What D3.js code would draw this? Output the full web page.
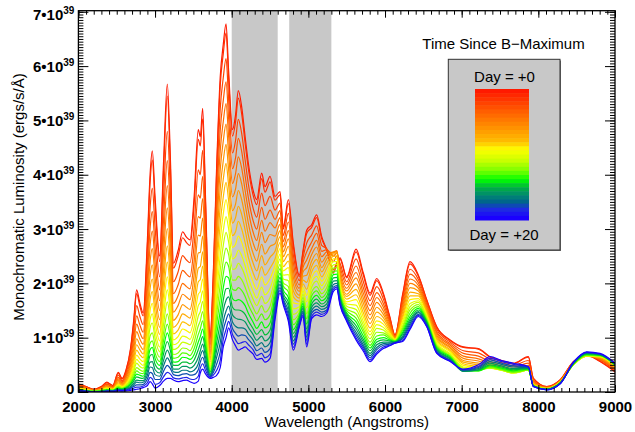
<!DOCTYPE html>
<html><head><meta charset="utf-8">
<script src="https://cdn.jsdelivr.net/npm/d3@7/dist/d3.min.js"></script>
<style>body{margin:0;background:#fff}svg{display:block}</style>
</head><body>
<svg id="chart" width="635" height="432"></svg>
<script>
// ---- data (luminosity in units of 1e39 erg/s/Å) ----
const wavelengths = [2000,2100,2200,2300,2370,2450,2520,2570,2620,2680,2720,2760,2800,2845,2900,2935,2964,3000,3060,3110,3160,3200,3240,3300,3360,3410,3456,3510,3564,3590,3621,3660,3717,3760,3800,3850,3890,3926,3960,4010,4050,4086,4130,4175,4217,4278,4326,4391,4434,4500,4565,4630,4673,4739,4804,4882,4930,4978,5043,5108,5174,5239,5326,5370,5413,5500,5622,5717,5804,5892,5978,6060,6130,6230,6326,6435,6544,6675,6849,7022,7218,7370,7520,7675,7870,7935,8110,8283,8457,8630,8804,9000];
const day00 = [.15,.10,.05,.10,.18,.12,.36,.25,.40,.80,1.30,1.88,1.65,1.46,2.80,4.00,4.44,3.60,2.50,4.20,5.67,4.30,2.37,2.60,2.95,2.85,2.80,3.60,4.83,4.70,5.22,3.50,1.00,2.20,4.00,5.80,6.40,6.78,5.90,4.83,5.10,5.55,5.25,4.70,4.21,3.72,3.54,4.03,3.78,3.97,3.60,3.69,3.04,3.54,2.74,2.15,2.60,2.98,3.08,3.26,2.86,2.62,2.19,2.35,2.47,2.12,2.63,2.19,1.82,2.09,1.82,1.40,1.05,1.80,2.40,2.15,1.70,1.20,.96,.83,.80,.65,.58,.53,.65,.25,.10,.22,.56,.68,.56,.37];
const day01 = [.14,.10,.05,.10,.17,.12,.35,.24,.38,.77,1.25,1.81,1.59,1.40,2.69,3.85,4.27,3.46,2.40,4.04,5.45,4.14,2.28,2.50,2.84,2.75,2.70,3.46,4.65,4.53,5.03,3.37,.97,2.12,3.89,5.64,6.23,6.61,5.76,4.71,4.97,5.41,5.12,4.58,4.11,3.63,3.45,3.93,3.68,3.87,3.53,3.63,3.00,3.47,2.68,2.12,2.56,2.92,3.03,3.21,2.82,2.62,2.25,2.38,2.44,2.10,2.58,2.15,1.78,2.05,1.79,1.38,1.05,1.77,2.36,2.13,1.69,1.19,.95,.82,.79,.64,.57,.52,.64,.25,.10,.22,.56,.68,.57,.38];
const day02 = [.13,.09,.04,.08,.15,.10,.31,.21,.34,.68,1.10,1.59,1.40,1.24,2.37,3.39,3.75,3.04,2.12,3.56,4.80,3.65,2.03,2.21,2.51,2.43,2.38,3.05,4.09,4.00,4.45,2.99,.88,1.89,3.59,5.21,5.79,6.14,5.38,4.40,4.63,5.02,4.76,4.27,3.83,3.39,3.22,3.66,3.43,3.60,3.35,3.48,2.88,3.29,2.52,2.05,2.47,2.74,2.89,3.06,2.70,2.64,2.40,2.50,2.37,2.03,2.45,2.03,1.68,1.94,1.71,1.34,1.03,1.70,2.26,2.07,1.65,1.15,.92,.76,.72,.60,.54,.49,.58,.22,.09,.21,.55,.67,.59,.40];
const day03 = [.12,.08,.04,.07,.14,.09,.27,.19,.30,.60,.97,1.40,1.24,1.10,2.10,3.01,3.32,2.68,1.88,3.16,4.26,3.25,1.81,1.97,2.24,2.17,2.12,2.71,3.63,3.57,3.97,2.68,.81,1.70,3.32,4.81,5.37,5.71,5.03,4.11,4.31,4.67,4.43,3.98,3.58,3.16,3.00,3.40,3.18,3.35,3.18,3.34,2.77,3.13,2.38,1.97,2.38,2.58,2.76,2.92,2.59,2.62,2.50,2.56,2.31,1.97,2.32,1.92,1.59,1.83,1.63,1.30,1.02,1.64,2.17,2.01,1.61,1.11,.89,.71,.66,.56,.51,.46,.53,.20,.09,.21,.54,.67,.60,.42];
const day04 = [.11,.07,.03,.07,.12,.08,.24,.17,.27,.53,.87,1.25,1.10,.98,1.88,2.69,2.96,2.38,1.68,2.82,3.80,2.90,1.63,1.77,2.00,1.94,1.90,2.41,3.23,3.20,3.56,2.41,.74,1.53,3.06,4.44,4.98,5.31,4.70,3.84,4.02,4.33,4.12,3.71,3.34,2.95,2.79,3.16,2.96,3.12,3.02,3.21,2.67,2.97,2.24,1.91,2.29,2.43,2.64,2.79,2.49,2.58,2.56,2.60,2.25,1.91,2.20,1.82,1.50,1.74,1.56,1.26,1.01,1.58,2.08,1.96,1.57,1.08,.86,.66,.61,.53,.48,.43,.49,.18,.08,.20,.53,.66,.61,.43];
const day05 = [.10,.06,.03,.06,.11,.07,.22,.15,.24,.48,.77,1.11,.98,.88,1.67,2.40,2.64,2.12,1.50,2.52,3.39,2.60,1.47,1.59,1.80,1.75,1.70,2.16,2.89,2.87,3.20,2.17,.69,1.39,2.82,4.09,4.62,4.93,4.39,3.59,3.74,4.02,3.83,3.46,3.11,2.75,2.60,2.94,2.75,2.90,2.87,3.09,2.58,2.82,2.11,1.85,2.21,2.29,2.53,2.67,2.39,2.52,2.58,2.60,2.19,1.86,2.10,1.73,1.42,1.65,1.49,1.22,1.00,1.52,2.00,1.91,1.54,1.04,.83,.62,.57,.50,.46,.41,.46,.17,.08,.20,.52,.66,.62,.44];
const day06 = [.09,.06,.03,.05,.10,.07,.19,.14,.21,.42,.68,.98,.87,.78,1.49,2.13,2.34,1.87,1.33,2.24,3.01,2.32,1.32,1.42,1.61,1.56,1.52,1.91,2.56,2.57,2.87,1.95,.63,1.25,2.58,3.74,4.26,4.56,4.08,3.34,3.46,3.71,3.54,3.21,2.89,2.56,2.41,2.72,2.54,2.68,2.73,2.97,2.49,2.68,1.98,1.78,2.13,2.15,2.41,2.55,2.29,2.45,2.57,2.58,2.14,1.80,1.99,1.64,1.34,1.56,1.43,1.19,.99,1.47,1.92,1.86,1.51,1.01,.81,.58,.53,.48,.44,.39,.44,.16,.07,.19,.51,.66,.63,.45];
const day07 = [.08,.05,.02,.05,.09,.06,.17,.12,.19,.38,.61,.87,.78,.70,1.33,1.90,2.08,1.66,1.19,2.00,2.69,2.07,1.19,1.27,1.44,1.40,1.36,1.71,2.28,2.31,2.58,1.76,.59,1.14,2.35,3.42,3.92,4.21,3.80,3.11,3.21,3.42,3.27,2.98,2.68,2.38,2.23,2.51,2.34,2.48,2.59,2.86,2.40,2.54,1.86,1.73,2.06,2.02,2.31,2.44,2.21,2.37,2.54,2.55,2.08,1.76,1.89,1.55,1.26,1.47,1.37,1.16,.98,1.41,1.84,1.81,1.48,.98,.78,.55,.50,.46,.42,.37,.42,.15,.07,.19,.51,.66,.64,.46];
const day08 = [.07,.05,.02,.04,.08,.05,.15,.11,.17,.33,.54,.77,.69,.63,1.18,1.70,1.85,1.46,1.06,1.78,2.39,1.85,1.07,1.14,1.29,1.26,1.22,1.52,2.03,2.07,2.32,1.58,.55,1.03,2.13,3.10,3.59,3.86,3.52,2.88,2.95,3.14,3.00,2.75,2.48,2.20,2.06,2.31,2.15,2.28,2.45,2.75,2.31,2.41,1.75,1.67,1.99,1.89,2.21,2.33,2.12,2.28,2.50,2.50,2.03,1.71,1.79,1.46,1.18,1.39,1.31,1.12,.97,1.36,1.77,1.77,1.45,.95,.76,.52,.47,.45,.41,.36,.41,.14,.07,.18,.50,.66,.64,.47];
const day09 = [.07,.04,.02,.03,.07,.05,.14,.10,.15,.30,.47,.68,.61,.56,1.04,1.50,1.63,1.29,.94,1.58,2.12,1.65,.96,1.02,1.16,1.13,1.09,1.35,1.80,1.85,2.08,1.42,.51,.94,1.93,2.80,3.28,3.54,3.26,2.66,2.72,2.87,2.76,2.53,2.29,2.03,1.89,2.12,1.97,2.09,2.33,2.64,2.23,2.29,1.64,1.62,1.92,1.78,2.11,2.23,2.04,2.19,2.45,2.45,1.98,1.66,1.70,1.38,1.11,1.31,1.25,1.09,.97,1.31,1.70,1.72,1.42,.93,.74,.49,.45,.44,.40,.35,.40,.13,.06,.18,.50,.66,.65,.48];
const day10 = [.06,.04,.02,.03,.06,.04,.12,.09,.13,.26,.42,.60,.54,.49,.92,1.33,1.44,1.13,.83,1.40,1.88,1.47,.87,.91,1.03,1.01,.97,1.19,1.59,1.66,1.86,1.28,.48,.85,1.72,2.51,2.97,3.23,3.00,2.45,2.49,2.61,2.51,2.32,2.10,1.86,1.73,1.93,1.79,1.91,2.20,2.54,2.15,2.16,1.53,1.57,1.86,1.66,2.02,2.13,1.96,2.10,2.40,2.40,1.94,1.62,1.60,1.30,1.05,1.24,1.19,1.06,.96,1.27,1.63,1.68,1.39,.90,.71,.46,.43,.44,.40,.35,.40,.13,.06,.18,.50,.67,.66,.48];
const day11 = [.05,.03,.01,.03,.05,.04,.11,.08,.12,.23,.37,.53,.47,.44,.82,1.18,1.27,.99,.74,1.24,1.66,1.30,.78,.82,.92,.90,.87,1.05,1.40,1.48,1.67,1.15,.45,.77,1.54,2.24,2.70,2.94,2.76,2.26,2.27,2.37,2.29,2.13,1.93,1.71,1.59,1.76,1.63,1.74,2.09,2.45,2.08,2.05,1.43,1.52,1.80,1.55,1.93,2.04,1.88,2.01,2.34,2.35,1.89,1.58,1.52,1.23,.98,1.17,1.14,1.03,.95,1.22,1.57,1.65,1.37,.87,.69,.44,.41,.44,.40,.35,.40,.12,.06,.17,.50,.67,.66,.49];
const day12 = [.05,.03,.01,.02,.05,.03,.10,.07,.10,.20,.32,.45,.41,.38,.71,1.03,1.09,.85,.64,1.08,1.44,1.14,.69,.72,.81,.80,.76,.92,1.22,1.31,1.48,1.03,.42,.70,1.36,1.98,2.42,2.65,2.53,2.06,2.06,2.13,2.07,1.93,1.76,1.56,1.44,1.59,1.47,1.58,1.98,2.35,2.01,1.94,1.33,1.47,1.74,1.44,1.84,1.94,1.81,1.92,2.28,2.29,1.85,1.53,1.44,1.16,.92,1.10,1.09,1.01,.94,1.18,1.51,1.61,1.34,.85,.67,.42,.40,.45,.41,.36,.40,.12,.06,.17,.51,.68,.67,.49];
const day13 = [.04,.03,.01,.02,.04,.03,.08,.06,.09,.17,.27,.39,.35,.34,.62,.90,.94,.72,.56,.94,1.25,1.00,.62,.64,.72,.71,.67,.80,1.06,1.16,1.31,.92,.39,.63,1.19,1.73,2.17,2.39,2.31,1.89,1.87,1.92,1.87,1.76,1.60,1.43,1.31,1.44,1.33,1.42,1.88,2.27,1.95,1.84,1.24,1.43,1.68,1.35,1.77,1.86,1.74,1.84,2.22,2.23,1.81,1.50,1.36,1.10,.86,1.03,1.05,.98,.94,1.14,1.45,1.57,1.32,.83,.66,.40,.39,.46,.42,.37,.41,.12,.05,.17,.51,.68,.67,.50];
const day14 = [.04,.02,.01,.02,.04,.03,.07,.06,.08,.15,.24,.33,.31,.29,.54,.78,.82,.62,.49,.82,1.09,.88,.55,.56,.64,.63,.60,.69,.92,1.02,1.16,.82,.37,.57,1.02,1.49,1.92,2.13,2.10,1.72,1.68,1.70,1.67,1.59,1.45,1.29,1.17,1.29,1.18,1.27,1.77,2.19,1.88,1.74,1.15,1.39,1.63,1.25,1.69,1.78,1.68,1.76,2.16,2.17,1.77,1.46,1.29,1.03,.81,.97,1.00,.96,.93,1.10,1.39,1.54,1.30,.81,.64,.39,.39,.48,.44,.39,.42,.11,.05,.16,.52,.69,.68,.50];
const day15 = [.04,.02,.01,.01,.03,.02,.06,.05,.07,.13,.20,.28,.26,.25,.46,.67,.69,.51,.42,.70,.93,.76,.49,.49,.55,.55,.52,.59,.78,.89,1.02,.73,.34,.51,.87,1.28,1.69,1.90,1.91,1.56,1.51,1.51,1.49,1.43,1.31,1.17,1.06,1.15,1.05,1.14,1.68,2.11,1.82,1.65,1.08,1.35,1.58,1.16,1.62,1.71,1.62,1.69,2.10,2.11,1.74,1.43,1.22,.97,.76,.92,.96,.94,.92,1.07,1.34,1.51,1.28,.79,.62,.38,.40,.50,.46,.41,.43,.11,.05,.16,.52,.70,.68,.51];
const day16 = [.03,.02,.00,.01,.03,.02,.05,.04,.06,.10,.16,.22,.21,.21,.38,.55,.56,.41,.35,.58,.77,.64,.42,.42,.47,.47,.44,.49,.64,.76,.88,.63,.32,.45,.74,1.09,1.50,1.69,1.75,1.42,1.36,1.34,1.33,1.29,1.19,1.06,.95,1.03,.94,1.02,1.60,2.04,1.77,1.57,1.01,1.31,1.54,1.09,1.56,1.64,1.57,1.62,2.04,2.05,1.70,1.40,1.16,.92,.71,.87,.92,.92,.92,1.03,1.30,1.48,1.26,.77,.61,.38,.41,.53,.48,.43,.44,.11,.05,.16,.53,.71,.69,.51];
const day17 = [.03,.02,.00,.01,.02,.02,.04,.04,.05,.08,.13,.18,.17,.18,.31,.46,.45,.32,.29,.48,.63,.53,.37,.36,.40,.40,.37,.40,.52,.66,.76,.55,.30,.41,.62,.91,1.30,1.49,1.58,1.29,1.21,1.18,1.18,1.16,1.07,.96,.85,.91,.83,.91,1.52,1.98,1.72,1.49,.94,1.28,1.49,1.01,1.50,1.58,1.52,1.56,1.98,2.00,1.67,1.37,1.10,.87,.67,.82,.89,.90,.91,1.00,1.26,1.46,1.24,.75,.59,.39,.43,.56,.51,.46,.45,.11,.05,.16,.53,.72,.69,.52];
const day18 = [.03,.01,.00,.00,.02,.01,.04,.03,.04,.07,.10,.13,.13,.14,.24,.36,.34,.23,.23,.38,.49,.43,.32,.30,.33,.34,.31,.32,.41,.55,.64,.47,.28,.36,.50,.74,1.14,1.32,1.44,1.17,1.08,1.03,1.05,1.04,.97,.87,.76,.81,.73,.80,1.46,1.92,1.68,1.42,.88,1.25,1.46,.95,1.45,1.52,1.47,1.51,1.93,1.96,1.65,1.35,1.05,.83,.63,.78,.86,.88,.91,.98,1.22,1.43,1.23,.74,.58,.40,.45,.59,.53,.48,.46,.10,.04,.15,.54,.73,.70,.52];
const day19 = [.02,.01,.00,.00,.01,.01,.03,.02,.03,.05,.07,.09,.09,.11,.17,.27,.24,.14,.17,.28,.36,.33,.26,.24,.26,.27,.24,.23,.29,.44,.52,.39,.27,.31,.39,.58,.97,1.15,1.30,1.06,.96,.89,.91,.93,.87,.78,.67,.71,.63,.70,1.39,1.87,1.64,1.36,.82,1.22,1.42,.88,1.39,1.47,1.43,1.48,1.89,1.93,1.62,1.32,1.00,.79,.59,.73,.83,.86,.90,.95,1.18,1.41,1.21,.72,.57,.41,.47,.62,.56,.51,.46,.10,.04,.15,.54,.73,.70,.53];
const day20 = [.02,.01,.00,.00,.01,.01,.02,.02,.02,.03,.04,.05,.06,.08,.12,.19,.15,.07,.12,.20,.25,.25,.22,.19,.21,.22,.19,.16,.20,.35,.42,.33,.25,.27,.30,.45,.83,1.00,1.18,.96,.85,.77,.80,.83,.78,.70,.60,.62,.55,.62,1.33,1.82,1.60,1.30,.77,1.20,1.39,.83,1.35,1.42,1.39,1.45,1.85,1.90,1.60,1.30,.96,.75,.56,.70,.80,.85,.90,.93,1.15,1.39,1.20,.71,.56,.42,.50,.65,.58,.53,.47,.10,.04,.15,.55,.74,.71,.53];
const days = [0,1,2,3,4,5,6,7,8,9,10,11,12,13,14,15,16,17,18,19,20];
const spectra = [day00,day01,day02,day03,day04,day05,day06,day07,day08,day09,day10,day11,day12,day13,day14,day15,day16,day17,day18,day19,day20];
const shadedBands = [[4000,4600],[4750,5300]];
const xTicks = [2000,3000,4000,5000,6000,7000,8000,9000];
const yTicks = [0,1,2,3,4,5,6,7];
const legendTitle = "Time Since B\u2212Maximum";
const legendTop = "Day = +0";
const legendBottom = "Day = +20";
const xTitle = "Wavelength (Angstroms)";
const yTitle = "Monochromatic Luminosity (ergs/s/\u00C5)";
const colorStops = [0,0.1,0.2,0.3,0.4,0.46,0.55,0.63,0.7,0.76,0.82,0.88,0.93,1];
const colorValues = ['#ff1a00','#ff4400','#ff6e00','#ff9600','#ffbe00','#ffff00','#c8ff00','#78ff00','#00ff00','#00b040','#008a6e','#006090','#1e2ee0','#1a00ff'];

// ---- drawing ----
const FONT = "'Liberation Sans', Arial, Helvetica, sans-serif";
const svg = d3.select('#chart');
svg.append('rect').attr('width',635).attr('height',432).attr('fill','#fff');
const L = 78.4, R = 615, T = 10.7, B = 392;
const x = d3.scaleLinear().domain([2000,9000]).range([L,R]);
const y = d3.scaleLinear().domain([0,7.02]).range([B,T]);
const color = d3.scaleLinear().domain(colorStops).range(colorValues).interpolate(d3.interpolateRgb);

svg.append('clipPath').attr('id','clip').append('rect').attr('x',L).attr('y',T).attr('width',R-L).attr('height',B-T);

svg.append('g').selectAll('rect').data(shadedBands).join('rect')
  .attr('x',d=>x(d[0])).attr('width',d=>x(d[1])-x(d[0]))
  .attr('y',T).attr('height',B-T).attr('fill','#c8c8c8');

const line = d3.line().x((d,i)=>x(wavelengths[i])).y(d=>y(d)).curve(d3.curveMonotoneX);
svg.append('g').attr('clip-path','url(#clip)').selectAll('path').data(spectra).join('path')
  .attr('d',d=>line(d)).attr('fill','none')
  .attr('stroke',(d,i)=>color(days[i]/20)).attr('stroke-width',1.2).attr('stroke-linejoin','round');

// axes
const xMinor = d3.range(2000,9001,100);
const yMinor = d3.range(0,7.0001,0.05);
function styleAxis(g){ g.select('.domain').remove(); g.selectAll('line').attr('stroke','#000'); }
svg.append('g').attr('transform',`translate(0,${B})`).call(d3.axisBottom(x).tickValues(xMinor).tickSize(-4).tickFormat('')).call(styleAxis);
svg.append('g').attr('transform',`translate(0,${T})`).call(d3.axisTop(x).tickValues(xMinor).tickSize(-4).tickFormat('')).call(styleAxis);
svg.append('g').attr('transform',`translate(0,${T})`).call(d3.axisTop(x).tickValues(xTicks).tickSize(-7).tickFormat('')).call(styleAxis);
const gx = svg.append('g').attr('transform',`translate(0,${B})`)
  .call(d3.axisBottom(x).tickValues(xTicks).tickSize(-7).tickPadding(9).tickFormat(d3.format('d'))).call(styleAxis);
gx.selectAll('text').attr('font-family',FONT).attr('font-size',15).attr('font-weight','bold').attr('fill','#000');

svg.append('g').attr('transform',`translate(${L},0)`).call(d3.axisLeft(y).tickValues(yMinor).tickSize(-5).tickFormat('')).call(styleAxis);
svg.append('g').attr('transform',`translate(${R},0)`).call(d3.axisRight(y).tickValues(yMinor).tickSize(-5).tickFormat('')).call(styleAxis);
svg.append('g').attr('transform',`translate(${R},0)`).call(d3.axisRight(y).tickValues(yTicks).tickSize(-10).tickFormat('')).call(styleAxis);
const gy = svg.append('g').attr('transform',`translate(${L},0)`)
  .call(d3.axisLeft(y).tickValues(yTicks).tickSize(-10).tickPadding(4).tickFormat('')).call(styleAxis);
gy.selectAll('.tick').each(function(d){
  const t = d3.select(this).append('text').attr('x',-4).attr('y',d===0?1:(d===7?8:5))
    .attr('text-anchor','end').attr('font-family',FONT).attr('font-size',15).attr('font-weight','bold').attr('fill','#000');
  if(d===0){ t.text('0'); }
  else {
    t.append('tspan').text(d+'\u202210');
    t.append('tspan').attr('font-size',10).attr('dy',-6).text('39');
  }
});
svg.append('rect').attr('x',L).attr('y',T).attr('width',R-L).attr('height',B-T)
  .attr('fill','none').attr('stroke','#000').attr('stroke-width',1.3);

// titles
svg.append('text').attr('x',(L+R)/2).attr('y',427).attr('text-anchor','middle')
  .attr('font-family',FONT).attr('font-size',15).text(xTitle);
svg.append('text').attr('transform','translate(24,197) rotate(-90)').attr('text-anchor','middle')
  .attr('font-family',FONT).attr('font-size',15).text(yTitle);

// legend
svg.append('text').attr('x',503.5).attr('y',48.5).attr('text-anchor','middle')
  .attr('font-family',FONT).attr('font-size',15).text(legendTitle);
svg.append('rect').attr('x',449.5).attr('y',60.5).attr('width',111.5).attr('height',190.5).attr('fill','#6e6e6e');
svg.append('rect').attr('x',448.3).attr('y',59.3).attr('width',111.7).attr('height',190.7)
  .attr('fill','#c8c8c8').attr('stroke','#333').attr('stroke-width',1);
svg.append('text').attr('x',504.5).attr('y',82.3).attr('text-anchor','middle')
  .attr('font-family',FONT).attr('font-size',15).text(legendTop);
svg.append('text').attr('x',504).attr('y',240).attr('text-anchor','middle')
  .attr('font-family',FONT).attr('font-size',15).text(legendBottom);
const nBands = 32, gTop = 89, gBot = 220;
const gScale = d3.scaleLinear().domain([0,nBands]).range([gTop,gBot]);
svg.append('g').selectAll('rect').data(d3.range(nBands)).join('rect')
  .attr('x',475).attr('width',54).attr('y',i=>gScale(i)).attr('height',i=>gScale(i+1)-gScale(i)+0.5)
  .attr('fill',i=>color(i/(nBands-1)));
</script>
</body></html>
